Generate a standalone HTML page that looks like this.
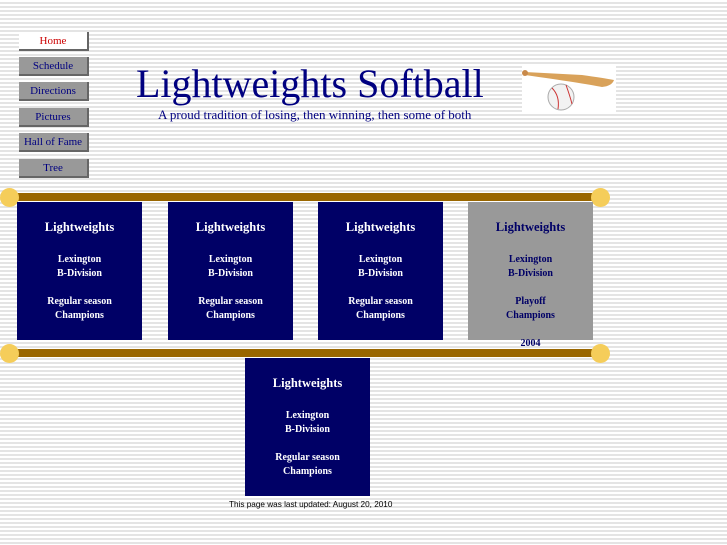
<!DOCTYPE html>
<html><head><style>
body{margin:0;width:727px;height:545px;overflow:hidden;position:relative;font-family:"Liberation Serif",serif;
background:repeating-linear-gradient(to bottom,#fff 0,#fff 2px,#e4e4e4 2px,#e4e4e4 4px);}
.nav{position:absolute;left:19px;width:68px;height:17px;background:#999;border-right:2px solid #666;border-bottom:2px solid #666;color:#000080;font-size:11px;text-align:center;line-height:18px;}
.bar{position:absolute;left:8px;width:593px;height:8px;background:#996600;}
.dot{position:absolute;width:19px;height:19px;border-radius:50%;background:#f5cd5a;}
.box{position:absolute;width:125px;height:138px;background:#000066;color:#fff;font-weight:bold;font-size:10px;text-align:center;}
.box .t{position:absolute;top:18px;width:100%;font-size:12.5px}
.box .a{position:absolute;top:51px;width:100%;line-height:14px}
.box .b{position:absolute;top:93px;width:100%;line-height:14px}
.box .y{position:absolute;top:135px;width:100%;line-height:14px}
</style></head><body>
<div class="nav" style="top:32px;background:#fff;color:#c00">Home</div>
<div class="nav" style="top:57px">Schedule</div>
<div class="nav" style="top:82px">Directions</div>
<div class="nav" style="top:108px">Pictures</div>
<div class="nav" style="top:133px">Hall of Fame</div>
<div class="nav" style="top:159px">Tree</div>
<div style="position:absolute;left:136px;top:61px;font-size:40px;color:#000080;white-space:nowrap;line-height:46px">Lightweights Softball</div>
<div style="position:absolute;left:158px;top:107px;font-size:13px;color:#000080;white-space:nowrap">A proud tradition of losing, then winning, then some of both</div>
<svg style="position:absolute;left:522px;top:66px" width="94" height="46">
<rect width="94" height="46" fill="#fff"/>
<path d="M3 6 L60 9 Q82 12 92 14 Q90 20 80 21 Q60 17 3 9Z" fill="#d9a25a"/>
<circle cx="3" cy="7" r="3" fill="#c8894a"/>
<circle cx="39" cy="31" r="13" fill="#f2f2f2" stroke="#aaa"/>
<path d="M30 22 Q38 30 36 43 M44 19 Q48 30 50 38" stroke="#c33" fill="none"/>
</svg>
<div class="bar" style="top:193px"></div>
<div class="dot" style="left:0;top:188px"></div><div class="dot" style="left:591px;top:188px"></div>
<div class="box" style="left:17px;top:202px"><div class="t">Lightweights</div><div class="a">Lexington<br>B-Division</div><div class="b">Regular season<br>Champions</div></div>
<div class="box" style="left:168px;top:202px"><div class="t">Lightweights</div><div class="a">Lexington<br>B-Division</div><div class="b">Regular season<br>Champions</div></div>
<div class="box" style="left:318px;top:202px"><div class="t">Lightweights</div><div class="a">Lexington<br>B-Division</div><div class="b">Regular season<br>Champions</div></div>
<div class="box" style="left:468px;top:202px;background:#999;color:#000066"><div class="t">Lightweights</div><div class="a">Lexington<br>B-Division</div><div class="b">Playoff<br>Champions</div><div class="y">2004</div></div>
<div class="bar" style="top:349px"></div>
<div class="dot" style="left:0;top:344px"></div><div class="dot" style="left:591px;top:344px"></div>
<div class="box" style="left:245px;top:358px"><div class="t">Lightweights</div><div class="a">Lexington<br>B-Division</div><div class="b">Regular season<br>Champions</div></div>
<div style="position:absolute;left:229px;top:500px;font-family:'Liberation Sans',sans-serif;font-size:8.2px;color:#000">This page was last updated: August 20, 2010</div>
</body></html>
